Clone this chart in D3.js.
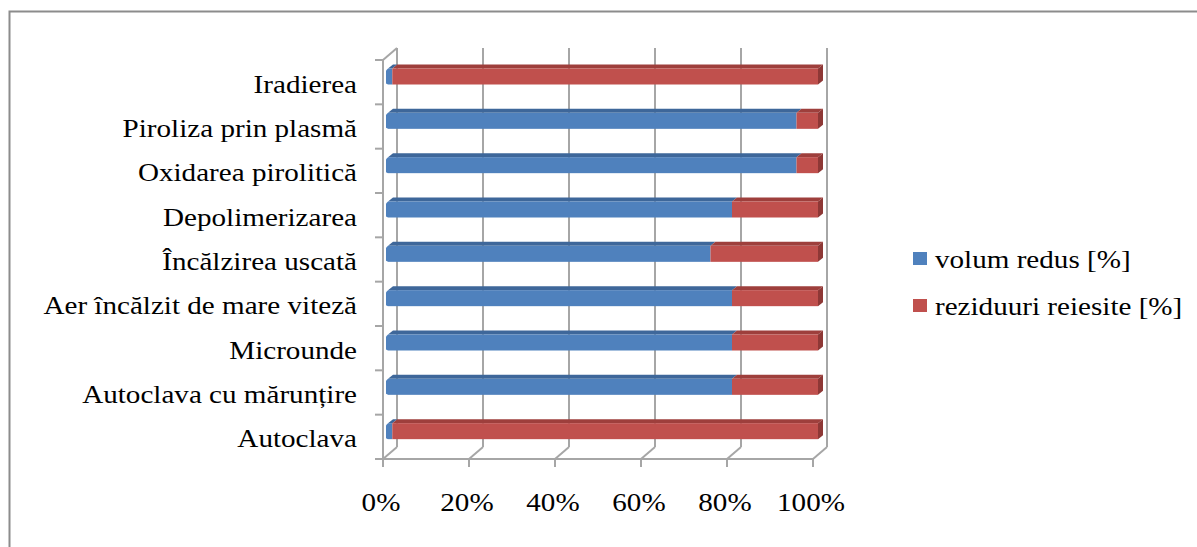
<!DOCTYPE html>
<html><head><meta charset="utf-8">
<script src="https://cdn.jsdelivr.net/npm/d3@7"></script>
<style>
html,body{margin:0;padding:0;background:#fff;}
svg{display:block;}
text{font-family:"Liberation Serif","Times New Roman",serif;fill:#000;}
</style></head>
<body>
<svg id="chart" width="1197" height="547"></svg>
<script>
const categories = ["Iradierea","Piroliza prin plasmă","Oxidarea pirolitică","Depolimerizarea","Încălzirea uscată","Aer încălzit de mare viteză","Microunde","Autoclava cu mărunțire","Autoclava"];
const volumRedus = [1,95,95,80,75,80,80,80,1];
const reziduuri = [99,5,5,20,25,20,20,20,99];
const seriesNames = ["volum redus [%]","reziduuri reiesite [%]"];
const xTicks = [0,20,40,60,80,100];

const svg = d3.select("#chart");
const FS = 26, SX = 1.12;
const colors = {blue:{front:"#4F81BD",top:"#3E679A",side:"#3A5F8E"}, red:{front:"#C0504D",top:"#9E3F3C",side:"#8E3836"}};

svg.append("rect").attr("x",9.5).attr("y",11.5).attr("width",1300).attr("height",600)
  .attr("fill","none").attr("stroke","#8c8c8c").attr("stroke-width",2);

const x = d3.scaleLinear().domain([0,100]).range([383,813]);
const y = d3.scaleBand().domain(categories).range([60,459]);
const DX=14, DY=-12;
const BX=5, BY=-4;
const BAR_OFF=5;

const grid = svg.append("g").attr("stroke","#a6a6a6").attr("stroke-width",2).attr("fill","none");
xTicks.forEach(t=>{
  grid.append("line").attr("x1",x(t)+DX).attr("x2",x(t)+DX).attr("y1",y.range()[0]+DY).attr("y2",y.range()[1]+DY);
  grid.append("line").attr("x1",x(t)).attr("y1",y.range()[1]).attr("x2",x(t)+DX).attr("y2",y.range()[1]+DY);
  grid.append("line").attr("x1",x(t)).attr("x2",x(t)).attr("y1",y.range()[1]).attr("y2",y.range()[1]+8);
});
grid.append("line").attr("x1",x(0)).attr("x2",x(0)).attr("y1",y.range()[0]).attr("y2",y.range()[1]);
grid.append("line").attr("x1",x(0)).attr("y1",y.range()[0]).attr("x2",x(0)+DX).attr("y2",y.range()[0]+DY);
grid.append("line").attr("x1",x(0)).attr("x2",x(100)).attr("y1",y.range()[1]).attr("y2",y.range()[1]);
const bounds = categories.map(c=>y(c)).concat([y.range()[1]]);
bounds.forEach(b=>{
  grid.append("line").attr("x1",x(0)-8).attr("x2",x(0)).attr("y1",b).attr("y2",b);
});

const bars = svg.append("g");
categories.forEach((c,i)=>{
  const yTop = y(c)+8.5, h=16;
  const segs=[{v0:0,v1:volumRedus[i],col:colors.blue},{v0:volumRedus[i],v1:volumRedus[i]+reziduuri[i],col:colors.red}];
  segs.forEach((s,j)=>{
    const x0=x(s.v0)+BAR_OFF, x1=x(s.v1)+BAR_OFF;
    bars.append("path").attr("d",`M${x0},${yTop}L${x0+BX},${yTop+BY}L${x1+BX},${yTop+BY}L${x1},${yTop}Z`).attr("fill",s.col.top);
    bars.append("rect").attr("x",x0).attr("y",yTop).attr("width",x1-x0).attr("height",h).attr("fill",s.col.front);
    if(j===segs.length-1){
      bars.append("path").attr("d",`M${x1},${yTop}L${x1+BX},${yTop+BY}L${x1+BX},${yTop+BY+h}L${x1},${yTop+h}Z`).attr("fill",s.col.side);
    }
  });
  const x0=x(0)+BAR_OFF;
  bars.append("path").attr("d",`M${x0},${yTop}L${x0-2},${yTop+2}L${x0-2},${yTop+h-1}L${x0},${yTop+h}Z`).attr("fill",colors.blue.front);
});

svg.append("g").selectAll("text").data(categories).join("text")
  .attr("transform",d=>`translate(357,${y(d)+y.bandwidth()/2+10.5}) scale(${SX},1)`)
  .attr("text-anchor","end").attr("font-size",FS).text(d=>d);

svg.append("g").selectAll("text").data(xTicks).join("text")
  .attr("transform",d=>`translate(${x(d)-2},511) scale(${SX},1)`)
  .attr("text-anchor","middle").attr("font-size",FS).text(d=>d+"%");

const lg = svg.append("g");
seriesNames.forEach((n,i)=>{
  const yy = 252 + i*47;
  lg.append("rect").attr("x",913).attr("y",yy).attr("width",14).attr("height",13).attr("fill",i===0?colors.blue.front:colors.red.front);
  lg.append("text").attr("transform",`translate(935,${yy+16}) scale(${SX},1)`).attr("font-size",FS).text(n);
});
</script>
</body></html>
